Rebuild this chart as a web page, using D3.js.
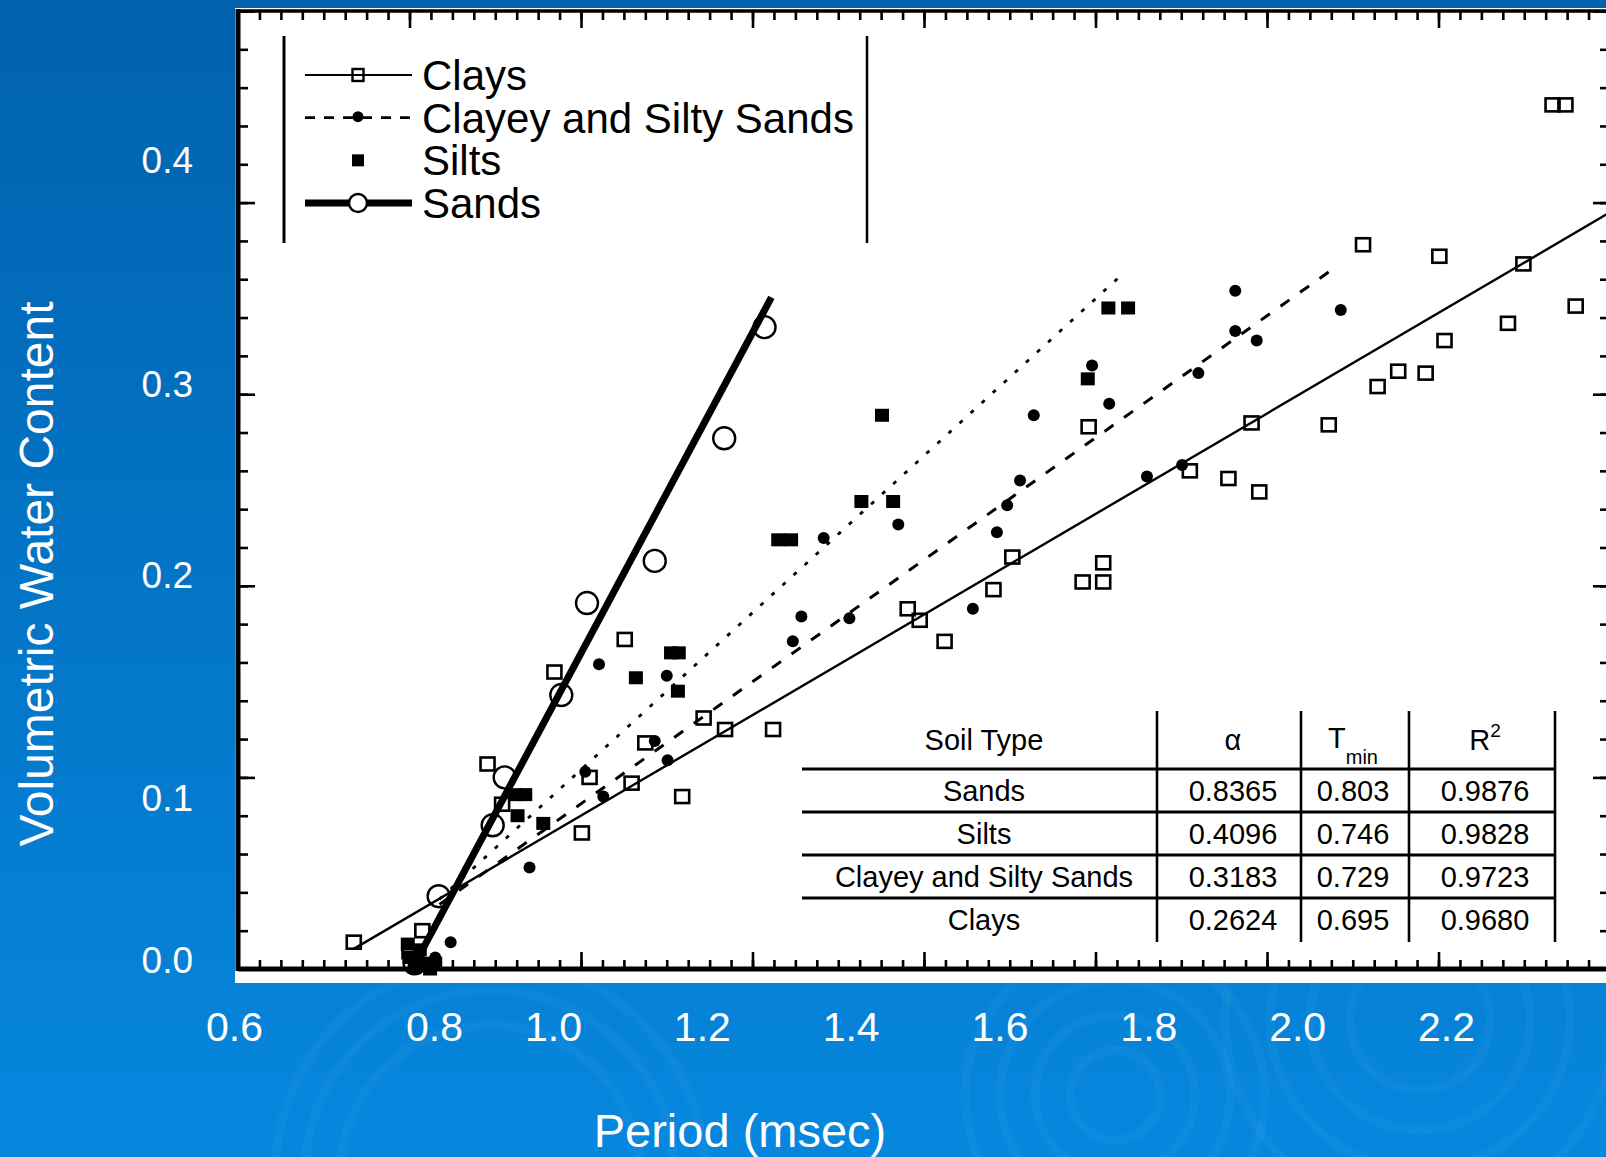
<!DOCTYPE html>
<html><head><meta charset="utf-8">
<script src="https://cdn.jsdelivr.net/npm/d3@7"></script>
<style>
html,body{margin:0;padding:0;overflow:hidden;background:#0070c0;}
svg{display:block;}
text{font-family:"Liberation Sans", Arial, Helvetica, sans-serif;}
</style></head><body>
<svg id="chart" width="1606" height="1157"></svg>
<script>
// ---------------- DATA ----------------
// [Period (msec), Volumetric water content]
const claysData = [
  [0.735,0.014],[0.815,0.020],[0.800,0.009],[0.891,0.107],[0.908,0.086],[0.969,0.155],
  [1.051,0.172],[1.001,0.071],[1.059,0.097],[1.075,0.118],[1.010,0.100],[1.118,0.090],
  [1.143,0.131],[1.168,0.125],[1.224,0.125],[1.381,0.188],[1.395,0.182],[1.424,0.171],
  [1.481,0.198],[1.503,0.215],[1.585,0.202],[1.609,0.212],[1.609,0.202],[1.592,0.283],
  [1.710,0.260],[1.755,0.256],[1.791,0.249],[1.782,0.285],[1.872,0.284],[1.912,0.378],
  [1.929,0.304],[1.953,0.312],[1.985,0.311],[2.001,0.372],[2.007,0.328],[2.081,0.337],
  [2.099,0.368],[2.133,0.451],[2.148,0.451],[2.160,0.346]
];
const clayeyData = [
  [0.848,0.014],[0.940,0.053],[1.021,0.159],[1.100,0.153],[1.005,0.103],[1.086,0.119],
  [1.101,0.109],[1.026,0.090],[1.247,0.171],[1.257,0.184],[1.313,0.183],[1.283,0.225],
  [1.370,0.232],[1.457,0.188],[1.485,0.228],[1.497,0.242],[1.512,0.255],[1.528,0.289],
  [1.596,0.315],[1.616,0.295],[1.660,0.257],[1.701,0.263],[1.720,0.311],[1.763,0.354],
  [1.763,0.333],[1.788,0.328],[1.886,0.344],[0.830,0.006]
];
const siltsData = [
  [1.351,0.289],[1.327,0.244],[1.364,0.244],[1.230,0.224],[1.245,0.224],[1.615,0.345],
  [1.638,0.345],[1.591,0.308],[1.105,0.165],[1.114,0.165],[1.064,0.152],[1.113,0.145],
  [0.923,0.091],[0.935,0.091],[0.926,0.080],[0.956,0.076],
  [0.800,0.006],[0.806,0.001],[0.818,0.003],[0.812,0.010],[0.824,0.000],[0.798,0.013],[0.830,0.003]
];
const sandsData = [
  [0.834,0.038],[0.897,0.075],[0.911,0.100],[0.977,0.143],[1.007,0.191],[1.086,0.213],
  [1.167,0.277],[1.214,0.335],[0.806,0.003]
];

// fit table
const tableSoil  = ["Sands","Silts","Clayey and Silty Sands","Clays"];
const tableAlpha = ["0.8365","0.4096","0.3183","0.2624"];
const tableTmin  = ["0.803","0.746","0.729","0.695"];
const tableR2    = ["0.9876","0.9828","0.9723","0.9680"];
// drawn extent of each fitted line (Period range)
const fitStart = [0.800, 0.835, 0.835, 0.735];
const fitEnd   = [1.222, 1.633, 1.875, 2.2];

const legendNames = ["Clays","Clayey and Silty Sands","Silts","Sands"];

// slide tick labels
const xTickLabels = [0.6,0.8,1.0,1.2,1.4,1.6,1.8,2.0,2.2];
const yTickLabels = [0.0,0.1,0.2,0.3,0.4];

// ---------------- DRAW ----------------
const W = 1606, H = 1157;
const svg = d3.select("#chart");
const defs = svg.append("defs");
const grad = defs.append("linearGradient").attr("id","bg")
  .attr("x1",0).attr("y1",0).attr("x2",0).attr("y2",1);
grad.append("stop").attr("offset","0%").attr("stop-color","#0062ae");
grad.append("stop").attr("offset","100%").attr("stop-color","#0687de");
svg.append("rect").attr("width",W).attr("height",H).attr("fill","url(#bg)");

// faint decorative rings
const rings = svg.append("g").attr("fill","none").attr("stroke","#ffffff").attr("stroke-opacity",0.035);
[[490,1175,[150,185,215]],[1115,1095,[45,80,115,150]],[1420,1020,[70,110,150,195]]].forEach(([cx,cy,rs])=>{
  rs.forEach(r=>rings.append("circle").attr("cx",cx).attr("cy",cy).attr("r",r).attr("stroke-width",9));
});

// chart panel
svg.append("rect").attr("x",235).attr("y",8).attr("width",W-235).attr("height",983-8).attr("fill","#ffffff");

const x = d3.scaleLinear().domain([0.6, 2.2]).range([238, 1610]);
const y = d3.scaleLinear().domain([0, 0.5]).range([969, 11]);

const xMinor = d3.range(0, 65).map(i => +(0.6 + i*0.025).toFixed(3));
const xMajor = d3.range(0, 9).map(i => +(0.6 + i*0.2).toFixed(2));
const yMinor = d3.range(0, 26).map(i => +(i*0.02).toFixed(2));
const yMajor = d3.range(0, 6).map(i => +(i*0.1).toFixed(1));

function ticks(gen, vals, size, tr){
  const g = svg.append("g").attr("transform", tr)
    .call(gen.tickValues(vals).tickSize(size).tickFormat(""));
  g.select(".domain").remove();
  g.selectAll(".tick line").attr("stroke","#000").attr("stroke-width",2.6);
}
ticks(d3.axisTop(x), xMinor, 9, "translate(0,969)");
ticks(d3.axisTop(x), xMajor, 17, "translate(0,969)");
ticks(d3.axisBottom(x), xMinor, 9, "translate(0,11)");
ticks(d3.axisBottom(x), xMajor, 17, "translate(0,11)");
ticks(d3.axisRight(y), yMinor, 10, "translate(238,0)");
ticks(d3.axisRight(y), yMajor, 17, "translate(238,0)");
ticks(d3.axisLeft(y), yMinor, 10, "translate(1610,0)");
ticks(d3.axisLeft(y), yMajor, 17, "translate(1610,0)");

// frame
const frame = svg.append("g").attr("stroke","#000");
frame.append("line").attr("x1",x(0.6)).attr("x2",x(2.2)).attr("y1",y(0)).attr("y2",y(0)).attr("stroke-width",5);
frame.append("line").attr("x1",x(0.6)).attr("x2",x(2.2)).attr("y1",y(0.5)).attr("y2",y(0.5)).attr("stroke-width",3.5);
frame.append("line").attr("x1",x(0.6)).attr("x2",x(0.6)).attr("y1",y(0.5)-2).attr("y2",y(0)+2).attr("stroke-width",5);

// fitted lines
const fitStyle = {
  "Sands": {w:7, dash:null},
  "Silts": {w:2.8, dash:"4 11"},
  "Clayey and Silty Sands": {w:3, dash:"11 13"},
  "Clays": {w:2.4, dash:null}
};
const line = d3.line().x(d=>x(d[0])).y(d=>y(d[1]));
tableSoil.forEach((name,i)=>{
  const a = +tableAlpha[i], t0 = +tableTmin[i];
  const pts = [fitStart[i], fitEnd[i]].map(t => [t, a*(t - t0)]);
  const st = fitStyle[name];
  svg.append("path").attr("d", line(pts)).attr("fill","none").attr("stroke","#000")
    .attr("stroke-width", st.w).attr("stroke-dasharray", st.dash);
});

// markers
const mk = svg.append("g");
mk.selectAll(".clay").data(claysData).join("rect")
  .attr("x",d=>x(d[0])-7).attr("y",d=>y(d[1])-6.5).attr("width",14).attr("height",13)
  .attr("fill","none").attr("stroke","#000").attr("stroke-width",2.6);
mk.selectAll(".sand").data(sandsData).join("circle")
  .attr("cx",d=>x(d[0])).attr("cy",d=>y(d[1])).attr("r",11)
  .attr("fill","none").attr("stroke","#000").attr("stroke-width",2.4);
mk.selectAll(".silt").data(siltsData).join("rect")
  .attr("x",d=>x(d[0])-7).attr("y",d=>y(d[1])-6.5).attr("width",14).attr("height",13)
  .attr("fill","#000");
mk.selectAll(".clayey").data(clayeyData).join("circle")
  .attr("cx",d=>x(d[0])).attr("cy",d=>y(d[1])).attr("r",6).attr("fill","#000");

// legend
const lg = svg.append("g");
lg.append("line").attr("x1",284).attr("x2",284).attr("y1",36).attr("y2",243).attr("stroke","#000").attr("stroke-width",3);
lg.append("line").attr("x1",867).attr("x2",867).attr("y1",36).attr("y2",243).attr("stroke","#000").attr("stroke-width",2.5);
const legY = d3.scalePoint().domain(legendNames).range([75, 203]);
const lx0 = 305, lx1 = 412, lmid = 358;
legendNames.forEach(name=>{
  const yy = legY(name);
  if (name === "Clays") {
    lg.append("line").attr("x1",lx0).attr("x2",lx1).attr("y1",yy).attr("y2",yy).attr("stroke","#000").attr("stroke-width",2);
    lg.append("rect").attr("x",lmid-5.5).attr("y",yy-6).attr("width",11).attr("height",12).attr("fill","none").attr("stroke","#000").attr("stroke-width",2.4);
  } else if (name === "Clayey and Silty Sands") {
    lg.append("line").attr("x1",lx0).attr("x2",lx1).attr("y1",yy).attr("y2",yy).attr("stroke","#000").attr("stroke-width",2.6).attr("stroke-dasharray","10 9");
    lg.append("circle").attr("cx",lmid).attr("cy",yy-1).attr("r",5.5).attr("fill","#000");
  } else if (name === "Silts") {
    lg.append("rect").attr("x",lmid-6).attr("y",yy-6).attr("width",12).attr("height",12).attr("fill","#000");
  } else {
    lg.append("line").attr("x1",lx0).attr("x2",lx1).attr("y1",yy).attr("y2",yy).attr("stroke","#000").attr("stroke-width",7);
    lg.append("circle").attr("cx",lmid).attr("cy",yy).attr("r",9).attr("fill","#fff").attr("stroke","#000").attr("stroke-width",2.4);
  }
  lg.append("text").attr("x",422).attr("y",yy).attr("dy","0.36em").attr("font-size",42).attr("fill","#000").text(name);
});

// table
const tb = svg.append("g").attr("stroke","#000");
const colX = [1157, 1301, 1409, 1555];
colX.forEach(cx=>tb.append("line").attr("x1",cx).attr("x2",cx).attr("y1",711).attr("y2",942).attr("stroke-width",2.6));
const rowLines = [769, 812, 855, 898];
rowLines.forEach(ry=>tb.append("line").attr("x1",802).attr("x2",1556).attr("y1",ry).attr("y2",ry).attr("stroke-width",3));
const tt = svg.append("g").attr("font-size",29).attr("fill","#000").attr("text-anchor","middle");
const colC = [984, 1233, 1353, 1485];
const hdrBase = 750;
tt.append("text").attr("x",colC[0]).attr("y",hdrBase).text("Soil Type");
tt.append("text").attr("x",colC[1]).attr("y",hdrBase).text("α");
const tm = tt.append("text").attr("x",colC[2]).attr("y",hdrBase - 2);
tm.append("tspan").text("T");
tm.append("tspan").attr("font-size",20).attr("dy",16).text("min");
const r2 = tt.append("text").attr("x",colC[3]).attr("y",hdrBase);
r2.append("tspan").text("R");
r2.append("tspan").attr("font-size",19).attr("dy",-13).text("2");
const rowY = d3.scalePoint().domain(tableSoil).range([791, 920]);
tableSoil.forEach((s,i)=>{
  const yy = rowY(s) + 10;
  tt.append("text").attr("x",colC[0]).attr("y",yy).text(s);
  tt.append("text").attr("x",colC[1]).attr("y",yy).text(tableAlpha[i]);
  tt.append("text").attr("x",colC[2]).attr("y",yy).text(tableTmin[i]);
  tt.append("text").attr("x",colC[3]).attr("y",yy).text(tableR2[i]);
});

// slide axis labels (white)
const xLab = d3.scaleLinear().domain([0.6,0.8,1.0,2.2]).range([234,434,553,1446]);
const gx = svg.append("g").attr("transform","translate(0,1012)")
  .call(d3.axisBottom(xLab).tickValues(xTickLabels).tickSize(0).tickPadding(0).tickFormat(d3.format(".1f")));
gx.select(".domain").remove();
gx.selectAll("text").attr("fill","#fff").attr("font-size",41).attr("font-family","Liberation Sans, Arial, sans-serif");

const yLab = d3.scaleLinear().domain([0,0.1,0.2,0.3,0.4]).range([961,799,576,385,161]);
const gy = svg.append("g").attr("transform","translate(193,0)")
  .call(d3.axisLeft(yLab).tickValues(yTickLabels).tickSize(0).tickPadding(0).tickFormat(d3.format(".1f")));
gy.select(".domain").remove();
gy.selectAll("text").attr("fill","#fff").attr("font-size",37).attr("font-family","Liberation Sans, Arial, sans-serif");

svg.append("text").attr("x",740).attr("y",1147).attr("text-anchor","middle")
  .attr("fill","#fff").attr("font-size",47).text("Period (msec)");
svg.append("text").attr("transform","translate(53,574) rotate(-90)").attr("text-anchor","middle")
  .attr("fill","#fff").attr("font-size",48).text("Volumetric Water Content");
</script>
</body></html>
